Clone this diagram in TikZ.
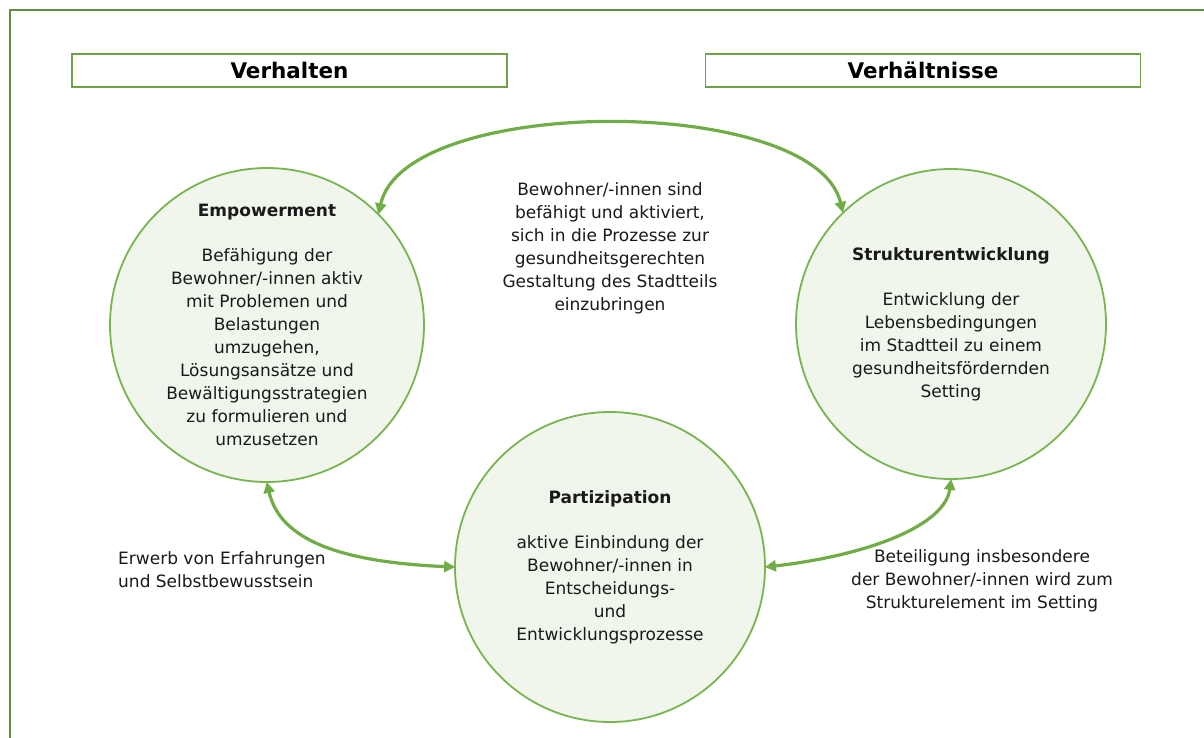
\documentclass[tikz,border=0pt]{standalone}
\usepackage{fontspec}
\setmainfont{DejaVu Sans}
\usetikzlibrary{arrows.meta}
\definecolor{framegreen}{RGB}{96,140,70}
\definecolor{boxgreen}{RGB}{112,160,72}
\definecolor{circgreen}{RGB}{120,180,80}
\definecolor{circfill}{RGB}{240,246,236}
\definecolor{arrowgreen}{RGB}{112,173,71}
\definecolor{txt}{RGB}{26,26,26}
\tikzset{
  headbox/.style={draw=boxgreen, line width=1.6pt, fill=white, minimum width=435pt, minimum height=33pt, inner sep=0pt, font=\fontsize{21.5}{26}\selectfont\bfseries, text=black},
  bubble/.style={circle, draw=circgreen, line width=1.8pt, fill=circfill, minimum size=310pt, inner sep=0pt, align=center, font=\fontsize{17}{23}\selectfont, text=txt},
  lbl/.style={inner sep=0pt, font=\fontsize{17}{23}\selectfont, text=txt},
  link/.style={draw=arrowgreen, line width=3.2pt, {Triangle[length=11pt,width=11pt]}-{Triangle[length=11pt,width=11pt]}, shorten <=-1pt, shorten >=-1pt}
}
\begin{document}
\begin{tikzpicture}[x=1pt,y=-1pt]
\useasboundingbox (0,0) rectangle (1204,738);
\fill[white] (0,0) rectangle (1204,738);
\draw[framegreen, line width=1.8pt] (10,10) rectangle (1220,760);
\node[headbox] (verh) at (289.5,70.5) {Verhalten};
\node[headbox] (verhn) at (923,70.5) {Verhältnisse};
\node[bubble] (emp) at (267,325) {\textbf{Empowerment}\\[22pt]Befähigung der\\Bewohner/-innen aktiv\\mit Problemen und\\Belastungen\\umzugehen,\\Lösungsansätze und\\Bewältigungsstrategien\\zu formulieren und\\umzusetzen};
\node[bubble] (str) at (951,324) {\textbf{Strukturentwicklung}\\[22pt]Entwicklung der\\Lebensbedingungen\\im Stadtteil zu einem\\gesundheitsfördernden\\Setting};
\node[bubble] (par) at (610,567) {\textbf{Partizipation}\\[22pt]aktive Einbindung der\\Bewohner/-innen in\\Entscheidungs-\\und\\Entwicklungsprozesse};
\node[lbl, align=center] (top) at (610,248) {Bewohner/-innen sind\\befähigt und aktiviert,\\sich in die Prozesse zur\\gesundheitsgerechten\\Gestaltung des Stadtteils\\einzubringen};
\node[lbl, align=left, anchor=west] (lefttxt) at (118,570) {Erwerb von Erfahrungen\\und Selbstbewusstsein};
\node[lbl, align=center] (righttxt) at (982,581) {Beteiligung insbesondere\\der Bewohner/-innen wird zum\\Strukturelement im Setting};
\draw[link] (emp.45) .. controls (405,94) and (815,94) .. (str.134);
\draw[link] (emp.270) .. controls (280,540) and (340,562) .. (par.180);
\draw[link] (par.0) .. controls (870,555) and (945,525) .. (str.270);
\end{tikzpicture}
\end{document}
